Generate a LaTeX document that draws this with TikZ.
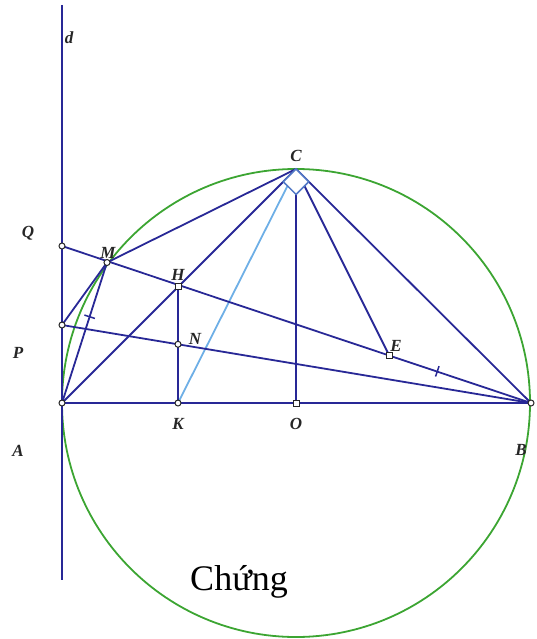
\documentclass[tikz,border=0pt]{standalone}
\usepackage{fontspec}
\setmainfont{Liberation Serif}
\usetikzlibrary{calc}
\definecolor{ln}{RGB}{40,40,150}
\definecolor{lb}{RGB}{110,175,230}
\definecolor{gr}{RGB}{60,165,50}
\tikzset{
  seg/.style={draw=ln, line width=1.8pt},
  lbl/.style={font=\fontsize{17}{17}\selectfont\bfseries\itshape, text=black!85, inner sep=0pt},
  dot/.style={circle, draw=black!85, fill=white, line width=1pt, minimum size=6pt, inner sep=0pt},
  sqdot/.style={rectangle, draw=black!85, fill=white, line width=1pt, minimum size=6pt, inner sep=0pt},
  tickmark/.style={rectangle, draw=ln, line width=1.5pt, minimum width=0pt, minimum height=11pt, inner sep=0pt}
}
\begin{document}
\begin{tikzpicture}[x=1pt,y=-1pt]
\useasboundingbox (0,0) rectangle (536,639);
\coordinate (A) at (62,403);
\coordinate (B) at (531,403);
\coordinate (O) at (296,403);
\coordinate (C) at (296,169);
\coordinate (K) at (178,403);
\coordinate (H) at (178,286.5);
\coordinate (N) at (178,344.3);
\coordinate (M) at (107,262.5);
\coordinate (Q) at (62,246);
\coordinate (P) at (62,325);
\coordinate (E) at (389,355);
\coordinate (dtop) at (62,5);
\coordinate (dbot) at (62,580);
% circle
\draw[gr, line width=1.8pt] (O) circle[radius=234pt];
% line d
\draw[seg] (dtop) -- (dbot);
% lines
\draw[seg] (A) -- (B);
\draw[seg] (A) -- (C);
\draw[seg] (M) -- (C);
\draw[seg] (O) -- (C);
\draw[seg] (E) -- (C);
\draw[seg] (B) -- (C);
\draw[draw=lb, line width=1.8pt] (K) -- (C);
\draw[seg] (Q) -- (B);
\draw[seg] (P) -- (B);
\draw[seg] (P) -- (M);
\draw[seg] (A) -- (M);
\draw[seg] (H) -- (K);
% right angle marker
\draw[draw=lb!60!ln, fill=white, line width=1.5pt] (C) -- ($(C)!18pt!(A)$) -- ($($(C)!18pt!(A)$)+($(C)!18pt!(B)$)-(C)$) -- ($(C)!18pt!(B)$) -- cycle;
% tick marks
\path (A) -- (M) node[tickmark, pos=0.614, sloped]{};
\path (E) -- (B) node[tickmark, pos=0.34, sloped]{};
% points
\node[dot] (pA) at (A) {};
\node[dot] (pB) at (B) {};
\node[dot] (pQ) at (Q) {};
\node[dot] (pP) at (P) {};
\node[dot] (pM) at (M) {};
\node[dot] (pK) at (K) {};
\node[dot] (pN) at (N) {};
\node[sqdot] (pH) at (H) {};
\node[sqdot] (pE) at (E) {};
\node[sqdot] (pO) at (O) {};
% labels
\node[lbl] (ld) at (69,38) {d};
\node[lbl] (lC) at (296,156) {C};
\node[lbl] (lQ) at (28,233) {Q};
\node[lbl] (lM) at (108,253) {M};
\node[lbl] (lH) at (178,275) {H};
\node[lbl] (lN) at (195,339) {N};
\node[lbl] (lP) at (18,353) {P};
\node[lbl] (lE) at (396,346) {E};
\node[lbl] (lK) at (178,424) {K};
\node[lbl] (lO) at (296,424) {O};
\node[lbl] (lA) at (18,451) {A};
\node[lbl] (lB) at (521,450) {B};
\node[font=\fontsize{36}{40}\selectfont, inner sep=0pt] (ch) at (239,582) {Chứng};
\end{tikzpicture}
\end{document}
